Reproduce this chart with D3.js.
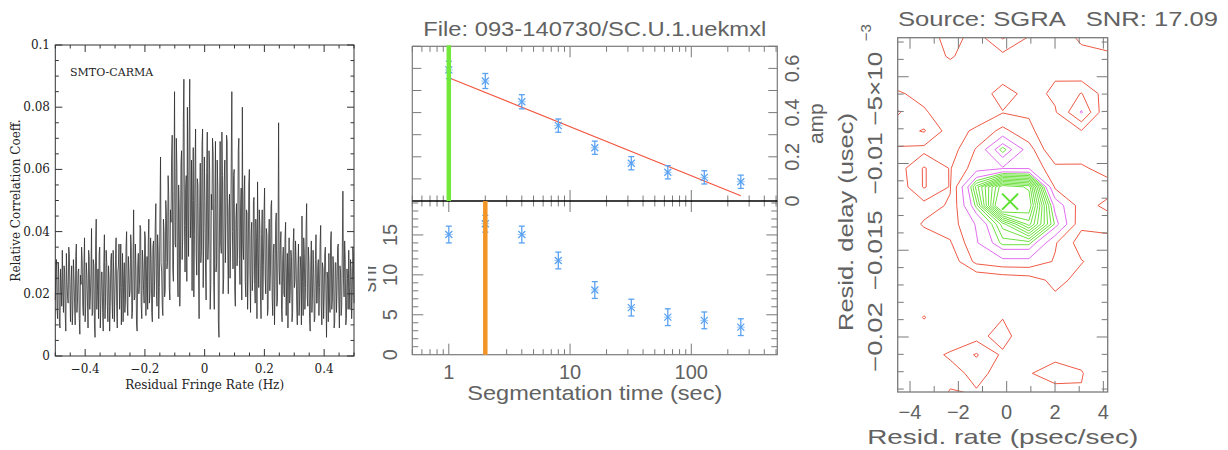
<!DOCTYPE html>
<html><head><meta charset="utf-8">
<script src="https://cdn.jsdelivr.net/npm/d3@7"></script>
<style>body{margin:0;background:#fff}svg{display:block}</style>
</head><body>
<svg id="c" width="1228" height="450"></svg>
<script>
// ================= DATA =================
// Panel 1: fringe-rate spectrum
const baselineName = "SMTO-CARMA";
const fringeRateRange = [-0.5, 0.5];
const correlation = [
0.018,0.027,0.031,0.015,0.012,0.030,0.026,0.011,0.009,0.028,0.022,0.016,0.034,0.020,0.014,0.029,0.027,0.013,0.008,0.033,0.024,0.019,0.017,0.035,0.033,0.021,0.011,0.024,0.029,0.010,0.015,0.031,
0.025,0.017,0.010,0.032,0.036,0.014,0.018,0.027,0.028,0.012,0.007,0.026,0.023,0.035,0.031,0.016,0.013,0.029,0.038,0.011,0.016,0.030,0.026,0.018,0.009,0.034,0.032,0.015,0.019,0.027,0.041,0.013,
0.014,0.031,0.029,0.010,0.006,0.036,0.044,0.015,0.021,0.028,0.012,0.033,0.035,0.009,0.017,0.027,0.027,0.014,0.008,0.030,0.039,0.012,0.019,0.034,0.030,0.016,0.011,0.029,0.025,0.008,0.016,0.031,
0.033,0.018,0.012,0.034,0.026,0.011,0.020,0.031,0.038,0.016,0.009,0.027,0.029,0.036,0.015,0.022,0.036,0.010,0.022,0.033,0.011,0.025,0.030,0.014,0.018,0.035,0.040,0.017,0.013,0.032,0.027,0.019,
0.021,0.039,0.035,0.012,0.014,0.031,0.047,0.018,0.019,0.036,0.028,0.010,0.008,0.029,0.033,0.020,0.023,0.042,0.041,0.016,0.012,0.034,0.030,0.021,0.017,0.040,0.038,0.013,0.024,0.032,0.015,0.036,
0.044,0.017,0.020,0.038,0.031,0.014,0.011,0.035,0.037,0.019,0.025,0.042,0.049,0.021,0.016,0.039,0.034,0.012,0.022,0.045,0.064,0.030,0.027,0.016,0.013,0.044,0.040,0.019,0.021,0.050,0.046,0.028,
0.030,0.058,0.052,0.022,0.018,0.047,0.043,0.064,0.071,0.028,0.024,0.053,0.085,0.036,0.035,0.070,0.061,0.026,0.019,0.055,0.048,0.016,0.029,0.062,0.066,0.031,0.038,0.075,0.089,0.042,0.027,0.054,
0.058,0.024,0.080,0.046,0.032,0.072,0.089,0.038,0.045,0.063,0.021,0.050,0.067,0.019,0.039,0.061,0.073,0.033,0.026,0.057,0.055,0.028,0.012,0.048,0.062,0.030,0.034,0.068,0.073,0.022,0.041,0.064,
0.050,0.028,0.018,0.059,0.072,0.031,0.037,0.066,0.060,0.015,0.023,0.052,0.047,0.070,0.065,0.024,0.015,0.049,0.069,0.027,0.030,0.063,0.054,0.011,0.006,0.045,0.069,0.036,0.033,0.072,0.058,0.020,
0.025,0.056,0.063,0.030,0.044,0.071,0.069,0.034,0.020,0.047,0.052,0.025,0.037,0.062,0.085,0.040,0.028,0.058,0.060,0.021,0.016,0.044,0.049,0.029,0.035,0.066,0.070,0.031,0.023,0.048,0.054,0.018,
0.080,0.036,0.031,0.052,0.058,0.024,0.019,0.047,0.046,0.015,0.028,0.055,0.060,0.027,0.014,0.039,0.043,0.021,0.026,0.050,0.051,0.023,0.017,0.044,0.038,0.012,0.056,0.033,0.022,0.047,0.041,0.019,
0.012,0.039,0.047,0.018,0.029,0.045,0.054,0.026,0.020,0.041,0.039,0.013,0.015,0.037,0.044,0.021,0.027,0.048,0.050,0.019,0.013,0.033,0.036,0.010,0.024,0.043,0.046,0.016,0.018,0.034,0.075,0.028,
0.023,0.036,0.040,0.015,0.011,0.031,0.035,0.020,0.019,0.038,0.043,0.013,0.026,0.033,0.009,0.027,0.038,0.017,0.021,0.034,0.032,0.011,0.014,0.036,0.041,0.022,0.024,0.037,0.030,0.016,0.010,0.028,
0.036,0.013,0.018,0.032,0.028,0.010,0.045,0.024,0.013,0.038,0.033,0.015,0.022,0.041,0.049,0.019,0.016,0.035,0.030,0.012,0.008,0.029,0.037,0.014,0.020,0.034,0.027,0.011,0.012,0.031,0.039,0.017,
0.017,0.029,0.031,0.013,0.022,0.036,0.042,0.016,0.010,0.030,0.028,0.012,0.019,0.033,0.035,0.020,0.006,0.027,0.025,0.011,0.033,0.018,0.014,0.037,0.040,0.015,0.018,0.032,0.029,0.009,0.011,0.030,
0.030,0.014,0.021,0.035,0.036,0.018,0.009,0.029,0.027,0.013,0.016,0.034,0.053,0.025,0.019,0.037,0.031,0.010,0.012,0.028,0.025,0.015,0.034,0.022,0.015,0.031,0.028,0.012,0.020,0.035,0.032,0.017];
const corrTickLabels = [0, 0.02, 0.04, 0.06, 0.08, 0.1];
const rateTickLabels = [-0.4, -0.2, 0, 0.2, 0.4];

// Panel 2: segmentation
const fileName = "File: 093-140730/SC.U.1.uekmxl";
const segTimes   = [1, 2, 4, 8, 16, 32, 64, 128, 256];
const ampValues  = [0.593, 0.543, 0.449, 0.341, 0.241, 0.171, 0.130, 0.107, 0.087];
const ampErrors  = [0.039, 0.034, 0.032, 0.030, 0.030, 0.030, 0.030, 0.030, 0.030];
const ampFit     = [0.558, 0.024];          // fit values at first and last segment time
const snrValues  = [15.05, 16.4, 15.05, 11.8, 8.1, 5.9, 4.7, 4.3, 3.45];
const snrErrors  = [1.05, 1.05, 1.05, 1.05, 1.05, 1.05, 1.05, 1.05, 1.05];
const ampSelected = 1, snrSelected = 2;
const segTickLabels = [1, 10, 100];
const ampTickLabels = [0, 0.2, 0.4, 0.6];
const snrTickLabels = [0, 5, 10, 15];

// Panel 3: delay-rate map
const sourceTitle = "Source: SGRA   SNR: 17.09";
const rateRange  = [-4.51, 4.18];
const delayRange = [-0.00275, -0.02317];   // top row, bottom row
const rateAxisTicks = [-4, -2, 0, 2, 4];
const delayAxisTicks = [-0.02, -0.015, -0.01, -0.005];
const gridCols = 9;
const delayRateGrid = [
[0.15,0.18,0.30,0.20,0.36,0.24,0.15,0.28,0.30],
[0.12,0.15,0.27,0.15,0.22,0.18,0.20,0.20,0.23],
[0.15,0.12,0.15,0.14,0.20,0.15,0.24,0.20,0.16],
[0.27,0.20,0.12,0.18,0.30,0.21,0.27,0.355,0.19],
[0.36,0.27,0.15,0.18,0.245,0.24,0.24,0.46,0.15],
[0.30,0.36,0.20,0.27,0.38,0.27,0.18,0.245,0.16],
[0.24,0.22,0.20,0.36,0.63,0.40,0.14,0.18,0.15],
[0.20,0.36,0.243,0.405,0.44,0.44,0.28,0.27,0.20],
[0.18,0.36,0.244,0.70,1.00,0.95,0.33,0.27,0.30],
[0.17,0.215,0.26,0.62,1.10,1.00,0.52,0.30,0.38],
[0.18,0.26,0.30,0.46,0.70,0.90,0.59,0.275,0.28],
[0.15,0.20,0.24,0.44,0.62,0.62,0.36,0.20,0.22],
[0.12,0.15,0.18,0.38,0.42,0.42,0.34,0.255,0.20],
[0.10,0.12,0.12,0.15,0.18,0.20,0.28,0.219,0.15],
[0.10,0.15,0.12,0.12,0.15,0.18,0.23,0.15,0.12],
[0.10,0.26,0.12,0.15,0.245,0.15,0.15,0.12,0.10],
[0.10,0.15,0.15,0.21,0.30,0.153,0.15,0.15,0.12],
[0.10,0.19,0.27,0.36,0.23,0.18,0.217,0.20,0.12],
[0.12,0.15,0.20,0.29,0.20,0.2425,0.30,0.26,0.12],
[0.10,0.12,0.26,0.24,0.18,0.16,0.21,0.24,0.12]];
const redLevels = [0.25, 0.35];
const magentaLevels = [0.45, 0.55];
const greenLevels = [0.60, 0.64, 0.68, 0.72, 0.76, 0.80, 0.84, 0.88, 0.92, 0.96];
const peakPosition = [0.14, -0.0122];

// ================= DRAWING =================
const svg = d3.select("#c");
const SERIF = "'DejaVu Serif', serif";
const SANS = "'Liberation Sans', Arial, sans-serif";
const TXT = "#626262";

function line(g, x1, y1, x2, y2, color, w) {
  return g.append("line").attr("x1", x1).attr("y1", y1).attr("x2", x2).attr("y2", y2)
    .attr("stroke", color).attr("stroke-width", w);
}
function text(g, x, y, s, opt) {
  const t = g.append("text").attr("x", x).attr("y", y).text(s)
    .attr("font-family", opt.font).attr("font-size", opt.size).attr("fill", opt.fill)
    .attr("text-anchor", opt.anchor || "middle");
  if (opt.rotate) t.attr("transform", `rotate(${opt.rotate},${x},${y})`);
  if (opt.len) t.attr("textLength", opt.len).attr("lengthAdjust", "spacingAndGlyphs");
  if (opt.pre) t.style("white-space", "pre");
  return t;
}
const near = (v, m) => Math.abs(v / m - Math.round(v / m)) < 1e-6;

// ---------- Panel 1 ----------
{
  const g = svg.append("g");
  const x = d3.scaleLinear(fringeRateRange, [55.3, 354]);
  const y = d3.scaleLinear([0, 0.1], [356, 45]);
  const step = (fringeRateRange[1] - fringeRateRange[0]) / (correlation.length - 1);
  g.append("path").datum(correlation)
    .attr("d", d3.line().x((d, i) => x(fringeRateRange[0] + i * step)).y(d => y(d)))
    .attr("fill", "none").attr("stroke", "#2e2e2e").attr("stroke-width", 0.8);
  const col = "#333";
  g.append("rect").attr("x", x.range()[0]).attr("y", y.range()[1])
    .attr("width", x.range()[1] - x.range()[0]).attr("height", y.range()[0] - y.range()[1])
    .attr("fill", "none").attr("stroke", col).attr("stroke-width", 1);
  d3.range(-0.5, 0.50001, 0.05).forEach(v => {
    const L = near(v, 0.2) ? 7 : 3.5;
    line(g, x(v), y.range()[0], x(v), y.range()[0] - L, col, 1);
    line(g, x(v), y.range()[1], x(v), y.range()[1] + L, col, 1);
  });
  d3.range(0, 0.10001, 0.005).forEach(v => {
    const L = near(v, 0.02) ? 7 : 3.5;
    line(g, x.range()[0], y(v), x.range()[0] + L, y(v), col, 1);
    line(g, x.range()[1], y(v), x.range()[1] - L, y(v), col, 1);
  });
  const o = { font: SERIF, size: 12, fill: "#222" };
  rateTickLabels.forEach(v => text(g, x(v), 373, d3.format("")(v), o));
  corrTickLabels.forEach(v => text(g, 50, y(v) + 4, d3.format("")(v), { ...o, anchor: "end" }));
  text(g, x(0), 389, "Residual Fringe Rate (Hz)", o);
  text(g, 20, y(0.05), "Relative Correlation Coeff.", { ...o, rotate: -90 });
  text(g, 70, 76, baselineName, { font: SERIF, size: 11, fill: "#222", anchor: "start" });
}

// ---------- Panel 2 ----------
{
  const g = svg.append("g");
  const x = d3.scaleLog([0.5, 512], [412.3, 777.3]);
  const yA = d3.scaleLinear([0, 0.7], [201, 46.3]);
  const yS = d3.scaleLinear([0, 19.25], [354.7, 201]);
  const frame = "#7a7a7a";
  const X0 = x.range()[0], X1 = x.range()[1];
  const T = yA.range()[1], M = yA.range()[0], B = yS.range()[0];
  svg.append("clipPath").attr("id", "snrclip").append("rect").attr("x", 368).attr("y", 180).attr("width", 40).attr("height", 200);

  g.append("rect").attr("x", X0).attr("y", T).attr("width", X1 - X0).attr("height", B - T)
    .attr("fill", "none").attr("stroke", frame).attr("stroke-width", 1.2);
  const logTicks = [];
  [0.1, 1, 10, 100].forEach(d => { for (let k = 1; k <= 9; k++) { const v = d * k; if (v >= 0.5 && v <= 512) logTicks.push(v); } });
  logTicks.forEach(v => {
    const major = [1, 10, 100].includes(+v.toFixed(6));
    const L = major ? 11 : 5.5;
    line(g, x(v), T, x(v), T + L, frame, 1);
    line(g, x(v), M, x(v), M - L, frame, 1);
    line(g, x(v), M, x(v), M + L, frame, 1);
    line(g, x(v), B, x(v), B - L, frame, 1);
  });
  d3.range(0.1, 0.7001, 0.1).forEach(v => {
    line(g, X0, yA(v), X0 + 9, yA(v), frame, 1);
    line(g, X1, yA(v), X1 - 9, yA(v), frame, 1);
  });
  d3.range(1, 19.01, 1).forEach(v => {
    const L = v % 5 === 0 ? 11 : 6;
    line(g, X0, yS(v), X0 + L, yS(v), frame, 1);
    line(g, X1, yS(v), X1 - L, yS(v), frame, 1);
  });
  line(g, X0, M, X1, M, "#000", 1.3);

  const blue = "#5aa2f2";
  function points(vals, errs, y) {
    segTimes.forEach((t, i) => {
      const cx = x(t), cy = y(vals[i]);
      const y1 = y(vals[i] - errs[i]), y2 = y(vals[i] + errs[i]);
      line(g, cx, y1, cx, y2, blue, 1.3);
      line(g, cx - 3, y1, cx + 3, y1, blue, 1.3);
      line(g, cx - 3, y2, cx + 3, y2, blue, 1.3);
      line(g, cx - 3.5, cy - 3.5, cx + 3.5, cy + 3.5, blue, 1.2);
      line(g, cx - 3.5, cy + 3.5, cx + 3.5, cy - 3.5, blue, 1.2);
      line(g, cx - 4, cy, cx + 4, cy, blue, 0.6);
    });
  }
  line(g, x(segTimes[0]), yA(ampFit[0]), x(segTimes[segTimes.length - 1]), yA(ampFit[1]), "#f2553f", 1.2);
  points(ampValues, ampErrors, yA);
  points(snrValues, snrErrors, yS);
  line(g, x(ampSelected), T - 1, x(ampSelected), M, "#72e83a", 4.5);
  line(g, x(snrSelected), M, x(snrSelected), B, "#f29426", 4.5);

  const o = { font: SANS, size: 20, fill: TXT };
  segTickLabels.forEach(v => text(g, x(v), 379, String(v), o));
  text(g, (X0 + X1) / 2, 400, "Segmentation time (sec)", { ...o, size: 21, len: 255 });
  text(g, (X0 + X1) / 2, 36, fileName, { ...o, size: 21, len: 343 });
  snrTickLabels.forEach(v => text(g, 397, yS(v), String(v), { ...o, rotate: -90 }));
  ampTickLabels.forEach(v => text(g, 799, yA(v), d3.format("")(v), { ...o, rotate: -90 }));
  text(g, 823, (T + M) / 2, "amp", { ...o, size: 21, rotate: -90 });
  g.append("g").attr("clip-path", "url(#snrclip)")
    .call(s => text(s, 376, (M + B) / 2, "snr", { ...o, size: 21, rotate: -90 }));
}

// ---------- Panel 3 ----------
{
  const g = svg.append("g");
  const x = d3.scaleLinear(rateRange, [897.7, 1107.7]);
  const y = d3.scaleLinear(delayRange, [37.7, 392]);
  const frame = "#7a7a7a";
  const X0 = x.range()[0], X1 = x.range()[1], T = y.range()[0], B = y.range()[1];
  svg.append("clipPath").attr("id", "mapclip").append("rect")
    .attr("x", X0).attr("y", T).attr("width", X1 - X0).attr("height", B - T);

  const rows = delayRateGrid.length;
  const flat = delayRateGrid.flat();
  const gx = c => x(rateRange[0] + (c - 0.5) * (rateRange[1] - rateRange[0]) / (gridCols - 1));
  const gy = r => y(delayRange[0] + (r - 0.5) * (delayRange[1] - delayRange[0]) / (rows - 1));
  const gc = g.append("g").attr("clip-path", "url(#mapclip)");
  function draw(levels, color) {
    const cs = d3.contours().size([gridCols, rows]).thresholds(levels)(flat);
    cs.forEach(c => {
      let dstr = "";
      c.coordinates.forEach(poly => poly.forEach(ring => {
        dstr += "M" + ring.map(p => gx(p[0]).toFixed(2) + "," + gy(p[1]).toFixed(2)).join("L") + "Z";
      }));
      gc.append("path").attr("d", dstr).attr("fill", "none").attr("stroke", color).attr("stroke-width", 1);
    });
  }
  draw(redLevels, "#ef5a45");
  draw(magentaLevels, "#e06cf0");
  draw(greenLevels, "#6ee040");
  const px = x(peakPosition[0]), py = y(peakPosition[1]);
  line(g, px - 8, py - 8, px + 8, py + 8, "#5ee030", 2);
  line(g, px - 8, py + 8, px + 8, py - 8, "#5ee030", 2);

  g.append("rect").attr("x", X0).attr("y", T).attr("width", X1 - X0).attr("height", B - T)
    .attr("fill", "none").attr("stroke", frame).attr("stroke-width", 1.3);
  d3.range(-4, 4.01, 1).forEach(v => {
    const L = v % 2 === 0 ? 11 : 6;
    line(g, x(v), B, x(v), B - L, frame, 1);
    line(g, x(v), T, x(v), T + L, frame, 1);
  });
  d3.range(-0.023, -0.0025, 0.001).forEach(v => {
    const L = near(v, 0.005) ? 11 : 6;
    line(g, X0, y(v), X0 + L, y(v), frame, 1);
    line(g, X1, y(v), X1 - L, y(v), frame, 1);
  });
  const o = { font: SANS, size: 20, fill: TXT };
  rateAxisTicks.forEach(v => text(g, x(v), 419, d3.format("")(v), o));
  text(g, (X0 + X1) / 2, 444, "Resid. rate (psec/sec)", { ...o, size: 21, len: 271 });
  text(g, 898, 26, sourceTitle, { ...o, size: 21, anchor: "start", pre: true, len: 320 });
  text(g, 853, 222, "Resid. delay (usec)", { ...o, size: 21, rotate: -90, len: 218 });
  const lens = [70, 80, 62];
  delayAxisTicks.forEach((v, i) => {
    if (v === -0.005) {
      // mantissa and raised exponent, rotated like the other labels
      text(g, 882, y(v) + 12, "−5×10", { ...o, rotate: -90, len: 74 });
      text(g, 871, y(v) - 44, "−3", { ...o, size: 15, rotate: -90 });
    } else {
      text(g, 882, y(v), d3.format("")(v), { ...o, rotate: -90, len: lens[i] });
    }
  });
}
</script>
</body></html>
